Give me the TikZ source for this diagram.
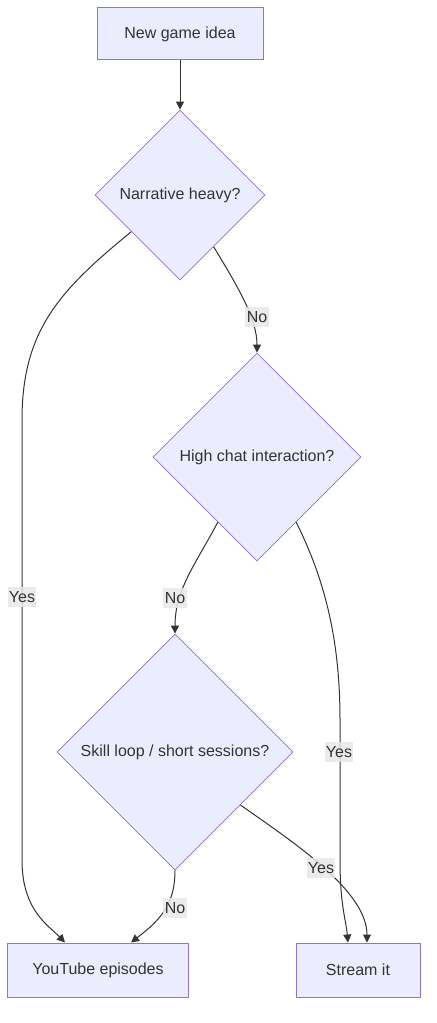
\documentclass[tikz,border=0pt]{standalone}
\usepackage{fontspec}
\setmainfont{Liberation Sans}
\usetikzlibrary{shapes.geometric,arrows.meta,calc}
\definecolor{nodefill}{HTML}{ECECFF}
\definecolor{nodeline}{HTML}{9370DB}
\definecolor{txt}{HTML}{333333}
\definecolor{lblfill}{HTML}{E8E8E8}
\begin{document}
\begin{tikzpicture}[x=0.75pt,y=-0.75pt,
  font=\fontsize{12}{14}\selectfont, text=txt,
  box/.style={draw=nodeline, fill=nodefill, line width=0.75pt, rectangle, inner sep=0pt},
  decision/.style={draw=nodeline, fill=nodefill, line width=0.6pt, diamond, aspect=1, inner sep=0pt},
  flow/.style={draw=txt, line width=0.75pt, -{Triangle[length=6pt,width=6pt]}},
  lbl/.style={fill=lblfill, fill opacity=0.85, text opacity=1, inner xsep=1pt, inner ysep=3pt}]
\useasboundingbox (0,0) rectangle (436,1023);

\node[box, minimum width=166*0.75pt, minimum height=52*0.75pt] (idea) at (180,34) {New game idea};
\node[decision, minimum width=170*0.75pt, minimum height=170*0.75pt] (d1) at (180,195) {Narrative heavy?};
\node[decision, minimum width=208*0.75pt, minimum height=208*0.75pt] (d2) at (257,457) {High chat interaction?};
\node[decision, minimum width=236*0.75pt, minimum height=236*0.75pt] (d3) at (175,752) {Skill loop / short sessions?};
\node[box, minimum width=181*0.75pt, minimum height=54*0.75pt] (yt) at (98,970) {YouTube episodes};
\node[box, minimum width=124*0.75pt, minimum height=54*0.75pt] (st) at (358,970) {Stream it};

\draw[flow] (idea.south) -- (d1.north);
\draw[flow] (d1.217) .. controls (60,290) and (22,330) .. (22,420) -- (22,860) .. controls (22,910) and (48,925) .. ($(yt.north)+(-33,0)$);
\draw[flow] (d1.303) .. controls (240,290) and (257,320) .. (d2.north);
\draw[flow] (d2.239) .. controls (195,565) and (175,590) .. (d3.north);
\draw[flow] (d2.301) .. controls (325,580) and (340,640) .. (340,720) -- (340,860) .. controls (340,905) and (346,920) .. ($(st.north)+(-10,0)$);
\draw[flow] (d3.321) .. controls (290,840) and (367,890) .. ($(st.north)+(9,0)$);
\draw[flow] (d3.south) .. controls (175,905) and (160,920) .. ($(yt.north)+(33,0)$);

\node[lbl] (l1) at (22,597) {Yes};
\node[lbl] (l2) at (257,317) {No};
\node[lbl] (l3) at (175,598) {No};
\node[lbl] (l4) at (339,752) {Yes};
\node[lbl] (l5) at (321,868) {Yes};
\node[lbl] (l6) at (175,908) {No};
\end{tikzpicture}
\end{document}
